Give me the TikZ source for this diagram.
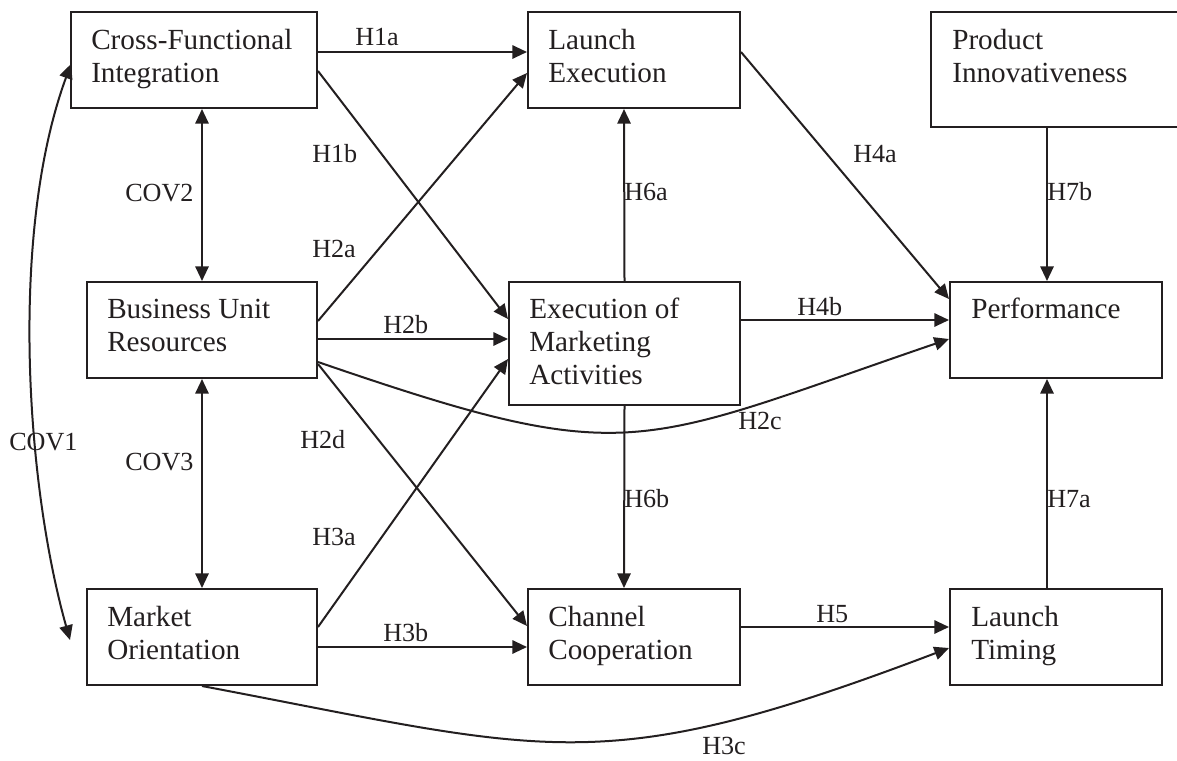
\documentclass[tikz,border=0pt]{standalone}
\usepackage{fontspec}
\setmainfont{Liberation Serif}
\usetikzlibrary{arrows.meta,calc}
\definecolor{ink}{RGB}{35,31,32}
\tikzset{
  box/.style={draw=ink, line width=1.5pt, inner sep=0pt, anchor=north west},
  boxtext/.style={anchor=base west, inner sep=0pt, text=ink, font=\fontsize{21.9}{24.9}\selectfont},
  lab/.style={anchor=base west, inner sep=0pt, text=ink, font=\fontsize{19.6}{22}\selectfont},
  conn/.style={draw=ink, line width=1.5pt},
  arr/.style={conn, -{Triangle[length=11pt,width=10pt]}},
  darr/.style={conn, {Triangle[length=11pt,width=10pt]}-{Triangle[length=11pt,width=10pt]}}
}
\begin{document}
\begin{tikzpicture}[x=0.75pt,y=-0.75pt]
\useasboundingbox (0,0) rectangle (1177,760);
% boxes
\node[box, minimum width=184.5pt, minimum height=72pt] (cfi) at (70,11) {};
\node[box, minimum width=159pt, minimum height=72pt] (le) at (527,11) {};
\node[box, minimum width=195pt, minimum height=86.25pt] (pi) at (930,11) {};
\node[box, minimum width=172.5pt, minimum height=72pt] (bur) at (86,281) {};
\node[box, minimum width=173.25pt, minimum height=92.25pt] (ema) at (508,281) {};
\node[box, minimum width=159pt, minimum height=72pt] (perf) at (949,281) {};
\node[box, minimum width=172.5pt, minimum height=72pt] (mo) at (86,588) {};
\node[box, minimum width=159pt, minimum height=72pt] (cc) at (527,588) {};
\node[box, minimum width=159pt, minimum height=72pt] (lt) at (949,588) {};
% box texts
\node[boxtext] (cfiT) at (91,49) {\vtop{\hbox{Cross-Functional}\hbox{Integration}}};
\node[boxtext] (leT) at (548,49) {\vtop{\hbox{Launch}\hbox{Execution}}};
\node[boxtext] (piT) at (952,49) {\vtop{\hbox{Product}\hbox{Innovativeness}}};
\node[boxtext] (burT) at (107,318) {\vtop{\hbox{Business Unit}\hbox{Resources}}};
\node[boxtext] (emaT) at (529,318) {\vtop{\hbox{Execution of}\hbox{Marketing}\hbox{Activities}}};
\node[boxtext] (perfT) at (971,318) {Performance};
\node[boxtext] (moT) at (107,626) {\vtop{\hbox{Market}\hbox{Orientation}}};
\node[boxtext] (ccT) at (548,626) {\vtop{\hbox{Channel}\hbox{Cooperation}}};
\node[boxtext] (ltT) at (971,626) {\vtop{\hbox{Launch}\hbox{Timing}}};
% connectors
\draw[arr] ($(cfi.east)+(0,-8)$) -- ($(le.west)+(0,-8)$);
\draw[arr] ($(cfi.east)+(0,11)$) -- ($(ema.west)+(0,-24.5)$);
\draw[arr] ($(bur.east)+(0,-9)$) -- ($(le.west)+(0,13)$);
\draw[arr] ($(bur.east)+(0,9)$) -- ($(ema.west)+(0,-4.5)$);
\draw[arr] ($(bur.east)+(0,32)$) .. controls (632,470) and (633,447) .. ($(perf.west)+(0,9)$);
\draw[arr] ($(bur.east)+(0,34)$) -- ($(cc.west)+(0,-11)$);
\draw[arr] ($(mo.east)+(0,-10)$) -- ($(ema.west)+(0,15.5)$);
\draw[arr] ($(mo.east)+(0,10)$) -- ($(cc.west)+(0,10)$);
\draw[arr] (mo.south) .. controls (551,752) and (599,781) .. ($(lt.west)+(0,11)$);
\draw[arr] ($(le.east)+(0,-8)$) -- ($(perf.west)+(0,-31)$);
\draw[arr] ($(ema.east)+(0,-23.5)$) -- ($(perf.west)+(0,-10)$);
\draw[arr] ($(cc.east)+(0,-10)$) -- ($(lt.west)+(0,-10)$);
\draw[arr] (ema.north) -- ($(le.south)+(-10,0)$);
\draw[arr] (ema.south) -- ($(cc.north)+(-10,0)$);
\draw[arr] ($(lt.north)+(-9,0)$) -- ($(perf.south)+(-9,0)$);
\draw[arr] ($(pi.south)+(-14,0)$) -- ($(perf.north)+(-9,0)$);
\draw[darr] ($(cfi.south)+(8,0)$) -- (bur.north);
\draw[darr] (bur.south) -- (mo.north);
\coordinate (cov1end) at (70,640);
\draw[darr] ($(cfi.west)+(1,4)$) .. controls (10,230) and (25,480) .. (cov1end);
% labels
\node[lab] (lH1a) at (355,45) {H1a};
\node[lab] (lH1b) at (312,162) {H1b};
\node[lab] (lCOV2) at (125,201) {COV2};
\node[lab] (lH2a) at (312,257) {H2a};
\node[lab] (lH6a) at (624,200) {H6a};
\node[lab] (lH4a) at (853,162) {H4a};
\node[lab] (lH7b) at (1047,200) {H7b};
\node[lab] (lH2b) at (383,333) {H2b};
\node[lab] (lH4b) at (797,315) {H4b};
\node[lab] (lH2c) at (738,429) {H2c};
\node[lab] (lH2d) at (300,448) {H2d};
\node[lab] (lCOV1) at (9,450) {COV1};
\node[lab] (lCOV3) at (125,470) {COV3};
\node[lab] (lH6b) at (624,507) {H6b};
\node[lab] (lH7a) at (1047,507) {H7a};
\node[lab] (lH3a) at (312,545) {H3a};
\node[lab] (lH3b) at (383,641) {H3b};
\node[lab] (lH5) at (816,622) {H5};
\node[lab] (lH3c) at (702,754) {H3c};
\end{tikzpicture}
\end{document}
